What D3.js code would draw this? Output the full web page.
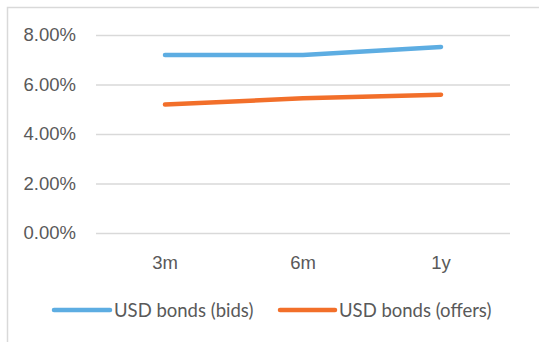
<!DOCTYPE html>
<html>
<head>
<meta charset="utf-8">
<script src="https://cdn.jsdelivr.net/npm/d3@7"></script>
<style>
  body { margin: 0; background: #fff; }
  svg { display: block; font-family: Lato, "Open Sans", sans-serif; }
</style>
</head>
<body>
<svg width="539" height="342"></svg>
<script>
const categories = ['3m', '6m', '1y'];
const bids = [7.19, 7.19, 7.52];
const offers = [5.19, 5.44, 5.59];
const yTicks = [0, 2, 4, 6, 8];
const seriesNames = ['USD bonds (bids)', 'USD bonds (offers)'];
const seriesColors = ['#5DADE2', '#F26F2A'];

const svg = d3.select('svg');
const plot = { left: 96, right: 510, top: 35, bottom: 233 };
const fontSize = '18.5px';

// chart frame (only top/left edges fall inside the picture)
svg.append('rect')
    .attr('x', 7.5).attr('y', 7.5)
    .attr('width', 600).attr('height', 400)
    .attr('fill', 'none')
    .attr('stroke', '#d9d9d9')
    .attr('stroke-width', 1.5);

const x = d3.scaleBand().domain(categories).range([plot.left, plot.right]);
const y = d3.scaleLinear().domain([0, 8]).range([plot.bottom, plot.top]);

const yAxis = svg.append('g')
    .attr('transform', `translate(${plot.left},0)`)
    .call(d3.axisLeft(y).tickValues(yTicks).tickSize(-(plot.right - plot.left))
        .tickFormat(d => d.toFixed(2) + '%'));
yAxis.select('.domain').remove();
yAxis.selectAll('.tick line').attr('stroke', '#d9d9d9').attr('stroke-width', 1.5);
yAxis.selectAll('.tick text')
    .attr('x', -20)
    .attr('fill', '#595959')
    .attr('font-size', fontSize);

const xAxis = svg.append('g')
    .attr('transform', `translate(0,${plot.bottom})`)
    .call(d3.axisBottom(x).tickSize(0));
xAxis.select('.domain').remove();
xAxis.selectAll('.tick text')
    .attr('y', 23)
    .attr('fill', '#595959')
    .attr('font-size', fontSize);

const line = d3.line()
    .x((d, i) => x(categories[i]) + x.bandwidth() / 2)
    .y(d => y(d));

[bids, offers].forEach((values, i) => {
    svg.append('path')
        .datum(values)
        .attr('d', line)
        .attr('fill', 'none')
        .attr('stroke', seriesColors[i])
        .attr('stroke-width', 4.5)
        .attr('stroke-linecap', 'round');
});

// legend
const legendY = 311;
const legendItems = [{ x0: 54, x1: 110 }, { x0: 280, x1: 335 }];
seriesNames.forEach((name, i) => {
    const g = svg.append('g');
    g.append('line')
        .attr('x1', legendItems[i].x0).attr('x2', legendItems[i].x1)
        .attr('y1', legendY - 1).attr('y2', legendY - 1)
        .attr('stroke', seriesColors[i])
        .attr('stroke-width', 4.5)
        .attr('stroke-linecap', 'round');
    g.append('text')
        .attr('x', legendItems[i].x1 + 4)
        .attr('y', legendY)
        .attr('dy', '0.35em')
        .attr('fill', '#595959')
        .attr('font-size', fontSize)
        .text(name);
});
</script>
</body>
</html>
